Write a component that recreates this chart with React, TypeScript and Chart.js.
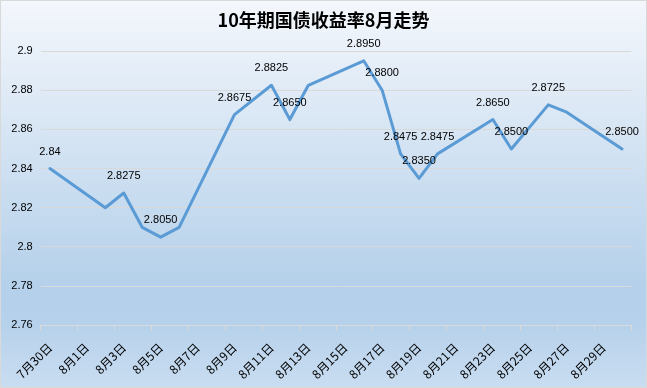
import React, { useEffect, useRef } from 'react';
import { Chart, registerables } from 'chart.js';

Chart.register(...registerables);

const chartTitle = '10年期国债收益率8月走势';

const categories = [
  '7月30日', '7月31日', '8月1日', '8月2日', '8月3日', '8月4日', '8月5日', '8月6日',
  '8月7日', '8月8日', '8月9日', '8月10日', '8月11日', '8月12日', '8月13日', '8月14日',
  '8月15日', '8月16日', '8月17日', '8月18日', '8月19日', '8月20日', '8月21日', '8月22日',
  '8月23日', '8月24日', '8月25日', '8月26日', '8月27日', '8月28日', '8月29日', '8月30日',
];

const yields: (number | null)[] = [
  2.84, null, null, 2.82, 2.8275, 2.81, 2.805, 2.81,
  null, null, 2.8675, null, 2.8825, 2.865, 2.8825, null,
  null, 2.895, 2.88, 2.8475, 2.835, 2.8475, null, null,
  2.865, 2.85, null, 2.8725, 2.8688, null, null, 2.85,
];

const pointLabels: (string | null)[] = [
  '2.84', null, null, null, '2.8275', null, '2.8050', null,
  null, null, '2.8675', null, '2.8825', '2.8650', null, null,
  null, '2.8950', '2.8800', '2.8475', '2.8350', '2.8475', null, null,
  '2.8650', '2.8500', null, '2.8725', null, null, null, '2.8500',
];

const yMin = 2.76;
const yMax = 2.9;
const yStep = 0.02;

const GRID = '#d9d9d9';
const LINE = '#5b9bd5';

const bgPlugin = {
  id: 'bgTitle',
  beforeDraw(chart: any) {
    const { ctx, width, height } = chart;
    ctx.save();
    const g = ctx.createLinearGradient(0, 0, 0, height);
    g.addColorStop(0, '#f4f7fc');
    g.addColorStop(0.74, '#b4d0ea');
    g.addColorStop(0.83, '#b6d1eb');
    g.addColorStop(1, '#c9ddf1');
    ctx.fillStyle = g;
    ctx.fillRect(0, 0, width, height);
    ctx.strokeStyle = GRID;
    ctx.lineWidth = 1;
    ctx.strokeRect(0.5, 0.5, width - 1, height - 1);
    ctx.font = 'bold 18px "Noto Sans CJK SC", sans-serif';
    ctx.fillStyle = '#000';
    ctx.textAlign = 'center';
    ctx.textBaseline = 'middle';
    ctx.fillText(chartTitle, width / 2, 20);
    ctx.restore();
  },
};

const labelPlugin = {
  id: 'pointLabels',
  afterDatasetsDraw(chart: any) {
    const { ctx } = chart;
    const meta = chart.getDatasetMeta(0);
    ctx.save();
    ctx.font = '11px "Liberation Sans", sans-serif';
    ctx.fillStyle = '#000';
    ctx.textAlign = 'center';
    ctx.textBaseline = 'middle';
    meta.data.forEach((el: any, i: number) => {
      const t = pointLabels[i];
      if (!t || yields[i] == null) return;
      ctx.fillText(t, el.x, el.y - 17);
    });
    ctx.restore();
  },
};

export default function App() {
  const ref = useRef<HTMLCanvasElement>(null);
  useEffect(() => {
    if (!ref.current) return;
    const chart = new Chart(ref.current, {
      type: 'line',
      data: {
        labels: categories,
        datasets: [
          {
            data: yields,
            borderColor: LINE,
            borderWidth: 3,
            pointRadius: 0,
            tension: 0,
            spanGaps: true,
            borderJoinStyle: 'round',
            borderCapStyle: 'round',
          },
        ],
      },
      options: {
        animation: false,
        responsive: false,
        layout: { padding: { top: 51, right: 15.7, bottom: 0, left: 0 } },
        plugins: { legend: { display: false }, tooltip: { enabled: false }, title: { display: false } },
        scales: {
          x: {
            type: 'category',
            offset: true,
            grid: {
              offset: true,
              drawOnChartArea: false,
              tickLength: 5,
              color: (c: any) => (c.index === undefined || c.index % 2 === 0 ? GRID : 'rgba(0,0,0,0)'),
            },
            border: { color: GRID },
            ticks: {
              autoSkip: false,
              maxRotation: 45,
              minRotation: 45,
              padding: 10,
              color: '#000',
              font: { size: 12, family: '"Noto Sans CJK SC", sans-serif' },
              callback: (_v: any, i: number) => (i % 2 === 0 ? categories[i] : ''),
            },
            afterFit: (s: any) => {
              s.height = 62.7;
              s.paddingLeft = 0;
              s.paddingRight = 0;
            },
          },
          y: {
            min: yMin,
            max: yMax,
            grid: { color: GRID, drawTicks: false },
            border: { display: false },
            ticks: {
              stepSize: yStep,
              padding: 8,
              color: '#000',
              font: { size: 11, family: '"Liberation Sans", sans-serif' },
              callback: (v: any) => String(Number(Number(v).toFixed(2))),
            },
            afterFit: (s: any) => {
              s.width = 40.7;
            },
          },
        },
      },
      plugins: [bgPlugin, labelPlugin],
    } as any);
    return () => chart.destroy();
  }, []);
  return (
    <div style={{ position: 'absolute', left: 0, top: 0, width: 647, height: 388 }}>
      <canvas ref={ref} width={647} height={388} />
    </div>
  );
}
